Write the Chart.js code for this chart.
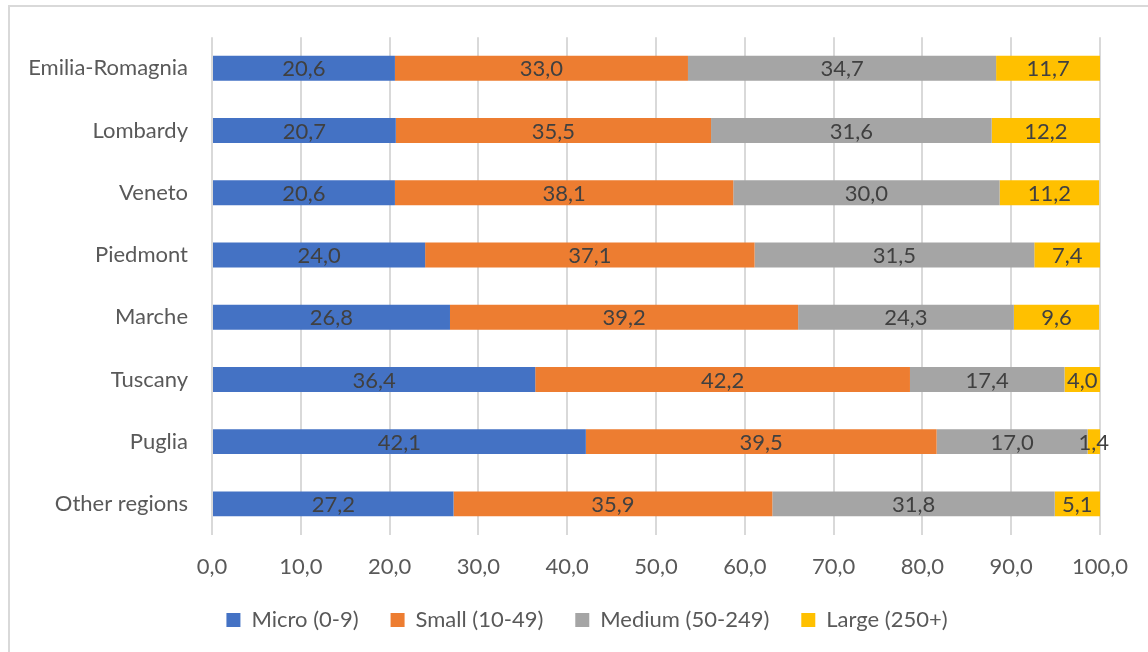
<!DOCTYPE html>
<html>
<head>
<meta charset="utf-8">
<script src="https://cdn.jsdelivr.net/npm/chart.js@4/dist/chart.umd.min.js"></script>
<style>
  html, body { margin: 0; padding: 0; background: #ffffff; }
  #wrap { width: 1148px; height: 652px; position: relative; }
</style>
</head>
<body>
<div id="wrap"><canvas id="c" width="1148" height="652"></canvas></div>
<script>
// Regions (top to bottom) and share of firms by size class, in %
const regions = ['Emilia-Romagnia', 'Lombardy', 'Veneto', 'Piedmont', 'Marche', 'Tuscany', 'Puglia', 'Other regions'];
const micro  = [20.6, 20.7, 20.6, 24.0, 26.8, 36.4, 42.1, 27.2];
const small  = [33.0, 35.5, 38.1, 37.1, 39.2, 42.2, 39.5, 35.9];
const medium = [34.7, 31.6, 30.0, 31.5, 24.3, 17.4, 17.0, 31.8];
const large  = [11.7, 12.2, 11.2, 7.4, 9.6, 4.0, 1.4, 5.1];
const seriesNames = ['Micro (0-9)', 'Small (10-49)', 'Medium (50-249)', 'Large (250+)'];
const axisMin = 0, axisMax = 100, axisStep = 10;

const FONT = 'Lato';
const FONT_SIZE = 22;
const colors = ['#4472C4', '#ED7D31', '#A5A5A5', '#FFC000'];

const fmt = v => v.toFixed(1).replace('.', ',');

// Light frame around the chart
const framePlugin = {
  id: 'frame',
  beforeDraw(chart) {
    const ctx = chart.ctx;
    ctx.save();
    ctx.strokeStyle = '#D9D9D9';
    ctx.lineWidth = 2;
    ctx.beginPath();
    ctx.moveTo(9, 652);
    ctx.lineTo(9, 6);
    ctx.lineTo(1148, 6);
    ctx.stroke();
    ctx.restore();
  }
};

// Centre the legend row under the plot area
const legendShift = {
  id: 'legendShift',
  afterLayout(chart) {
    const lg = chart.legend;
    if (!lg) return;
    const target = 587;
    const dx = target - (lg.left + lg.right) / 2;
    lg.left += dx;
    lg.right += dx;
  }
};

// Value labels centred on each bar segment
const valueLabels = {
  id: 'valueLabels',
  afterDatasetsDraw(chart) {
    const ctx = chart.ctx;
    ctx.save();
    ctx.font = FONT_SIZE + 'px ' + FONT;
    ctx.fillStyle = '#404040';
    ctx.textAlign = 'center';
    ctx.textBaseline = 'middle';
    chart.data.datasets.forEach((ds, i) => {
      const meta = chart.getDatasetMeta(i);
      meta.data.forEach((bar, j) => {
        const cx = (bar.x + bar.base) / 2;
        ctx.fillText(fmt(ds.data[j]), cx, bar.y + 1);
      });
    });
    ctx.restore();
  }
};

const seriesData = [micro, small, medium, large];

new Chart(document.getElementById('c'), {
  type: 'bar',
  data: {
    labels: regions,
    datasets: seriesNames.map((name, i) => ({
      label: name,
      data: seriesData[i],
      backgroundColor: colors[i],
      borderWidth: 0,
      categoryPercentage: 1,
      barPercentage: 0.4
    }))
  },
  options: {
    indexAxis: 'y',
    responsive: false,
    animation: false,
    devicePixelRatio: 1,
    layout: { padding: { top: 35, left: 10, right: 48, bottom: 11 } },
    font: { family: FONT },
    plugins: {
      tooltip: { enabled: false },
      title: { display: false },
      legend: {
        position: 'bottom',
        labels: {
          font: { family: FONT, size: FONT_SIZE },
          color: '#595959',
          boxWidth: 14,
          boxHeight: 14,
          padding: 32
        }
      }
    },
    scales: {
      x: {
        stacked: true,
        min: axisMin,
        max: axisMax,
        ticks: {
          stepSize: axisStep,
          color: '#595959',
          font: { family: FONT, size: FONT_SIZE },
          padding: 19,
          maxRotation: 0,
          callback: v => fmt(v)
        },
        grid: { color: '#D9D9D9', lineWidth: 2, drawTicks: false },
        border: { display: false },
        afterFit(scale) { scale.height = 42; }
      },
      y: {
        stacked: true,
        ticks: {
          color: '#595959',
          font: { family: FONT, size: FONT_SIZE },
          padding: 24
        },
        grid: { display: false, drawTicks: false },
        border: { display: false },
        afterFit(scale) { scale.width = 202; }
      }
    }
  },
  plugins: [framePlugin, legendShift, valueLabels]
});
</script>
</body>
</html>
